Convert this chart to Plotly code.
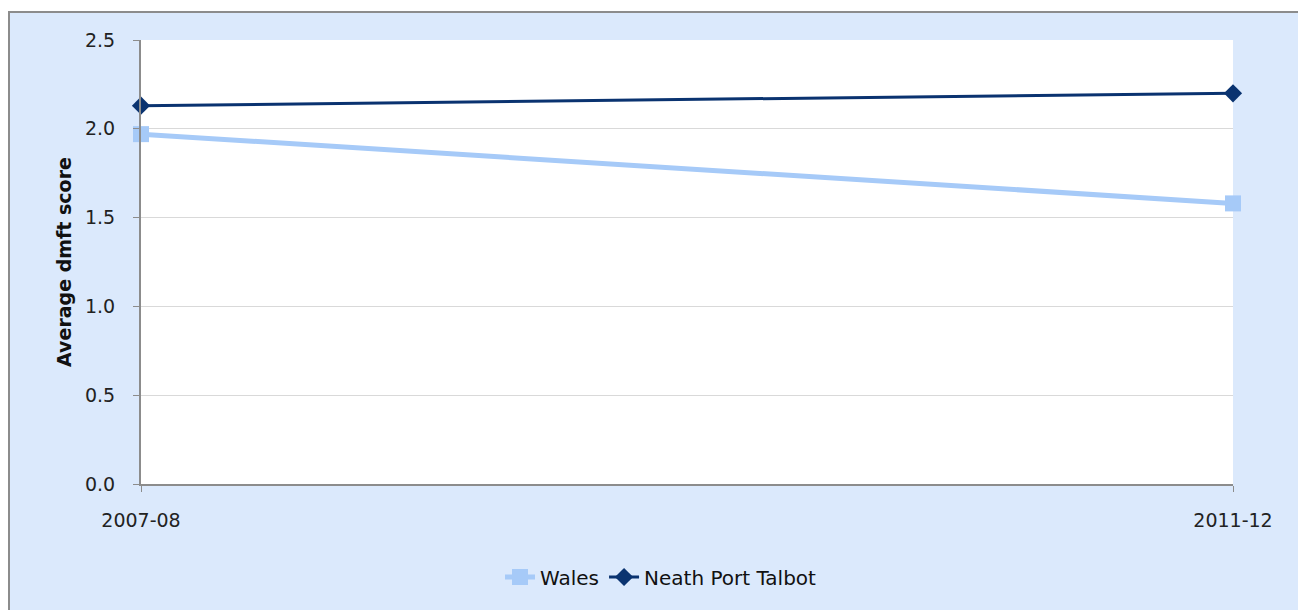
import plotly.graph_objects as go

categories = ["2007-08", "2011-12"]
wales = [1.97, 1.58]
npt = [2.13, 2.20]
y_ticks = [0.0, 0.5, 1.0, 1.5, 2.0, 2.5]
y_tick_labels = ["0.0", "0.5", "1.0", "1.5", "2.0", "2.5"]

# page body has an 8px margin, so the figure is drawn in figure coordinates
W, H = 1298, 602
L, R, T, B = 133, W - 1225, 32, H - 476
pw, ph = W - L - R, H - T - B

font_family = "DejaVu Sans"
x_idx = list(range(len(categories)))

fig = go.Figure()
fig.add_trace(go.Scatter(
    x=x_idx, y=wales, name="Wales", mode="lines+markers",
    line=dict(color="#a6caf8", width=5),
    marker=dict(symbol="square", size=16, color="#a6caf8"),
    cliponaxis=False,
))
fig.add_trace(go.Scatter(
    x=x_idx, y=npt, name="Neath Port Talbot", mode="lines+markers",
    line=dict(color="#0a3370", width=3),
    marker=dict(symbol="diamond", size=14, color="#0a3370"),
    cliponaxis=False,
))

# chart area background (light blue with grey border) and white plot area
fig.add_shape(type="rect", xref="paper", yref="paper", layer="below",
              x0=(1 - L) / pw, x1=(W + 20 - L) / pw,
              y0=-(H + 20 - (T + ph)) / ph, y1=(T + ph - 4) / ph,
              fillcolor="#dbe9fc", line=dict(color="#8c8c8c", width=2))
fig.add_shape(type="rect", xref="paper", yref="paper", layer="below",
              x0=0, x1=1, y0=0, y1=1, fillcolor="white", line=dict(width=0))

fig.update_layout(
    width=W, height=H,
    margin=dict(l=L, r=R, t=T, b=B, pad=0),
    paper_bgcolor="white", plot_bgcolor="white",
    font=dict(family=font_family, size=19, color="#222222"),
    showlegend=True,
    legend=dict(orientation="h", x=(653 - L) / pw, xanchor="center",
                y=-(569 - (T + ph)) / ph, yanchor="middle",
                bgcolor="rgba(0,0,0,0)", font=dict(size=20, color="#111111"),
                tracegroupgap=0),
    xaxis=dict(range=[0, len(categories) - 1], tickvals=x_idx, ticktext=categories,
               showgrid=False, zeroline=False, showline=True, linecolor="#8c8c8c",
               linewidth=2, ticks="outside", ticklen=6, tickcolor="#8c8c8c",
               ticklabelstandoff=12, tickfont=dict(size=19), fixedrange=True),
    yaxis=dict(range=[0, 2.5], tickvals=y_ticks, ticktext=y_tick_labels,
               showgrid=True, gridcolor="#d9d9d9", gridwidth=1, zeroline=False,
               showline=True, linecolor="#8c8c8c", linewidth=2,
               ticks="outside", ticklen=6, tickcolor="#8c8c8c",
               ticklabelstandoff=14, tickfont=dict(size=19),
               title=dict(text="<b>Average dmft score</b>", font=dict(size=19, color="#111111"),
                          standoff=8),
               fixedrange=True),
)

fig.write_html("out.html")
